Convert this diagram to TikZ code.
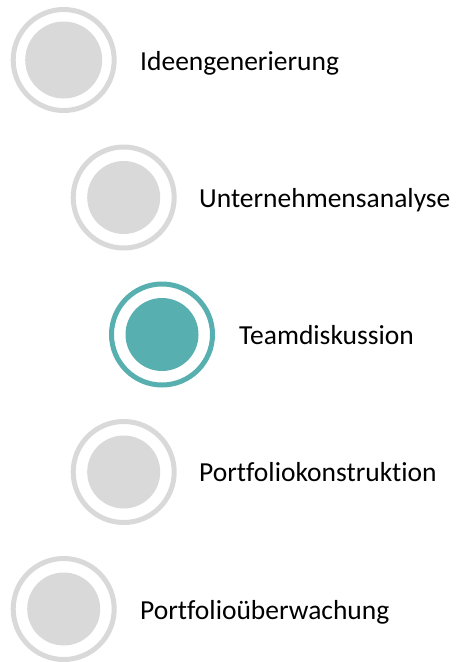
\documentclass[tikz,border=0pt]{standalone}
\usepackage{fontspec}
\setmainfont[Ligatures={NoCommon}]{Carlito}
\definecolor{ringgray}{RGB}{217,217,217}
\definecolor{teal}{RGB}{88,175,176}
\begin{document}
\begin{tikzpicture}[x=1pt,y=-1pt,
  ring/.style={circle, draw=#1, line width=5pt, minimum size=101pt, inner sep=0pt},
  disk/.style={circle, fill=#1, minimum size=73pt, inner sep=0pt},
  lbl/.style={anchor=base west, inner sep=0pt, font=\fontsize{27.5}{33}\selectfont}]
\useasboundingbox (0,0) rectangle (458,662);
% 1
\node[ring=ringgray] (r1) at (63.7,60) {};
\node[disk=ringgray, minimum size=77pt] (d1) at (63.7,60) {};
\node[lbl] (t1) at (140,70) {Ideengenerierung};
% 2
\node[ring=ringgray] (r2) at (123.7,197.5) {};
\node[disk=ringgray] (d2) at (123.7,197.5) {};
\node[lbl] (t2) at (199,207) {Unternehmensanalyse};
% 3
\node[ring=teal] (r3) at (162,334.5) {};
\node[disk=teal] (d3) at (162,334.5) {};
\node[lbl] (t3) at (239,344) {Teamdiskussion};
% 4
\node[ring=ringgray] (r4) at (123.7,472) {};
\node[disk=ringgray] (d4) at (123.7,472) {};
\node[lbl] (t4) at (199,481) {Portfoliokonstruktion};
% 5
\node[ring=ringgray] (r5) at (63.7,609) {};
\node[disk=ringgray] (d5) at (63.7,609) {};
\node[lbl] (t5) at (140,619) {Portfolioüberwachung};
\end{tikzpicture}
\end{document}
